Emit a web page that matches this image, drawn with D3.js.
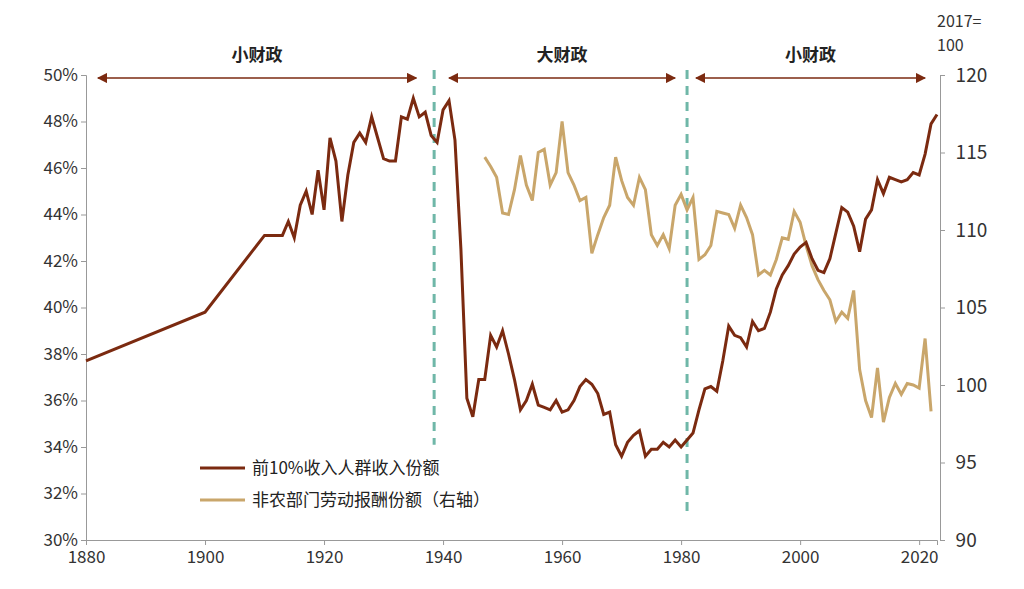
<!DOCTYPE html><html><head><meta charset="utf-8"><script src="https://cdn.jsdelivr.net/npm/d3@7"></script>
<style>body{margin:0;background:#fff}text{font-family:"Noto Sans CJK SC","Noto Sans",sans-serif}</style></head><body><svg id="c" width="1024" height="589"></svg>
<script>
const topYears=[1880,1900,1910,1913,1914,1915,1916,1917,1918,1919,1920,1921,1922,1923,1924,1925,1926,1927,1928,1929,1930,1931,1932,1933,1934,1935,1936,1937,1938,1939,1940,1941,1942,1943,1944,1945,1946,1947,1948,1949,1950,1951,1952,1953,1954,1955,1956,1957,1958,1959,1960,1961,1962,1963,1964,1965,1966,1967,1968,1969,1970,1971,1972,1973,1974,1975,1976,1977,1978,1979,1980,1981,1982,1983,1984,1985,1986,1987,1988,1989,1990,1991,1992,1993,1994,1995,1996,1997,1998,1999,2000,2001,2002,2003,2004,2005,2006,2007,2008,2009,2010,2011,2012,2013,2014,2015,2016,2017,2018,2019,2020,2021,2022,2023];
const topShare=[37.7,39.8,43.1,43.1,43.7,43.0,44.4,45.0,44.0,45.9,44.2,47.3,46.3,43.7,45.7,47.1,47.5,47.1,48.2,47.3,46.4,46.3,46.3,48.2,48.1,49.0,48.2,48.4,47.4,47.1,48.5,48.9,47.2,42.5,36.1,35.3,36.9,36.9,38.8,38.3,39.0,38.0,36.9,35.6,36.0,36.7,35.8,35.7,35.6,36.0,35.5,35.6,36.0,36.6,36.9,36.7,36.3,35.4,35.5,34.1,33.6,34.2,34.5,34.7,33.6,33.9,33.9,34.2,34.0,34.3,34.0,34.3,34.6,35.6,36.5,36.6,36.4,37.7,39.2,38.8,38.7,38.3,39.4,39.0,39.1,39.8,40.8,41.4,41.8,42.3,42.6,42.8,42.1,41.6,41.5,42.1,43.2,44.3,44.1,43.5,42.4,43.8,44.2,45.5,44.9,45.6,45.5,45.4,45.5,45.8,45.7,46.6,47.9,48.3];
const laborYears=d3.range(1947,2023);
const laborShare=[114.7,114.1,113.4,111.1,111.0,112.6,114.8,112.9,111.9,115.0,115.2,112.9,113.7,117.0,113.7,112.9,111.9,112.1,108.5,109.7,110.8,111.6,114.7,113.2,112.1,111.6,113.4,112.6,109.7,109.0,109.7,108.8,111.6,112.3,111.3,112.1,108.1,108.4,109.0,111.2,111.1,111.0,110.1,111.6,110.8,109.7,107.1,107.4,107.1,108.1,109.5,109.4,111.2,110.5,109.0,107.7,106.8,106.1,105.5,104.1,104.7,104.3,106.1,101.0,99.0,97.9,101.1,97.6,99.2,100.1,99.4,100.1,100.0,99.8,103.0,98.3];
const leftTicks=[30,32,34,36,38,40,42,44,46,48,50];
const rightTicks=[90,95,100,105,110,115,120];
const xTicks=[1880,1900,1920,1940,1960,1980,2000,2020];
const periods=[{label:"小财政",from:1882,to:1935.5},{label:"大财政",from:1941,to:1979},{label:"小财政",from:1982.5,to:2021}];
const dividers=[{year:1938.5,bottom:34.1},{year:1981,bottom:31}];
const names=["前10%收入人群收入份额","非农部门劳动报酬份额（右轴）"];
const brown="#7b2a10",tan="#c9a66b",teal="#6fb7a8",axisCol="#999";

const svg=d3.select("#c");
const x=d3.scaleLinear().domain([1880,2023]).range([86,937]);
const yL=d3.scaleLinear().domain([30,50]).range([540,75]);
const yR=d3.scaleLinear().domain([90,120]).range([540,75]);
const fs="17px";
svg.append("g").attr("transform","translate(0,540)").call(d3.axisBottom(x).tickValues(xTicks).tickFormat(d3.format("d")).tickSizeOuter(0).tickSize(5))
 .call(g=>{g.selectAll("text").attr("font-size",fs).attr("fill","#333").attr("dy","0.9em");g.selectAll("line,path").attr("stroke",axisCol);});
svg.append("g").attr("transform","translate(86,0)").call(d3.axisLeft(yL).tickValues(leftTicks).tickFormat(d=>d+"%").tickSizeOuter(0).tickSize(5))
 .call(g=>{g.selectAll("text").attr("font-size",fs).attr("fill","#333");g.selectAll("line,path").attr("stroke",axisCol);});
svg.append("g").attr("transform","translate(940,0)").call(d3.axisRight(yR).tickValues(rightTicks).tickSizeOuter(0).tickSize(5))
 .call(g=>{g.selectAll("text").attr("font-size","19px").attr("fill","#333").attr("dx","0.4em");g.selectAll("line,path").attr("stroke",axisCol);});
svg.append("text").attr("x",937).attr("y",27).attr("font-size","16px").attr("fill","#333").text("2017=");
svg.append("text").attr("x",937).attr("y",51).attr("font-size","16px").attr("fill","#333").text("100");

const defs=svg.append("defs");
defs.append("marker").attr("id","ah").attr("viewBox","0 0 10 10").attr("refX",9).attr("refY",5).attr("markerWidth",7).attr("markerHeight",7).attr("orient","auto-start-reverse")
 .append("path").attr("d","M0,0L10,5L0,10z").attr("fill",brown);
periods.forEach(p=>{
 svg.append("line").attr("x1",x(p.from)).attr("x2",x(p.to)).attr("y1",78).attr("y2",78).attr("stroke",brown).attr("stroke-width",1.5).attr("marker-start","url(#ah)").attr("marker-end","url(#ah)");
 svg.append("text").attr("x",(x(p.from)+x(p.to))/2).attr("y",61).attr("text-anchor","middle").attr("font-size","17px").attr("font-weight","bold").attr("fill","#222").text(p.label);
});
dividers.forEach(d=>svg.append("line").attr("x1",x(d.year)).attr("x2",x(d.year)).attr("y1",70).attr("y2",yL(d.bottom)).attr("stroke",teal).attr("stroke-width",3).attr("stroke-dasharray","9,7"));

svg.append("path").datum(laborYears.map((y,i)=>[y,laborShare[i]])).attr("fill","none").attr("stroke",tan).attr("stroke-width",3)
 .attr("d",d3.line().x(d=>x(d[0])).y(d=>yR(d[1])));
svg.append("path").datum(topYears.map((y,i)=>[y,topShare[i]])).attr("fill","none").attr("stroke",brown).attr("stroke-width",3)
 .attr("d",d3.line().x(d=>x(d[0])).y(d=>yL(d[1])));

[[brown,468],[tan,500]].forEach(([c,y],i)=>{
 svg.append("line").attr("x1",200).attr("x2",245).attr("y1",y).attr("y2",y).attr("stroke",c).attr("stroke-width",3);
 svg.append("text").attr("x",252).attr("y",y+6).attr("font-size","17px").attr("fill","#222").text(names[i]);
});
</script></body></html>
